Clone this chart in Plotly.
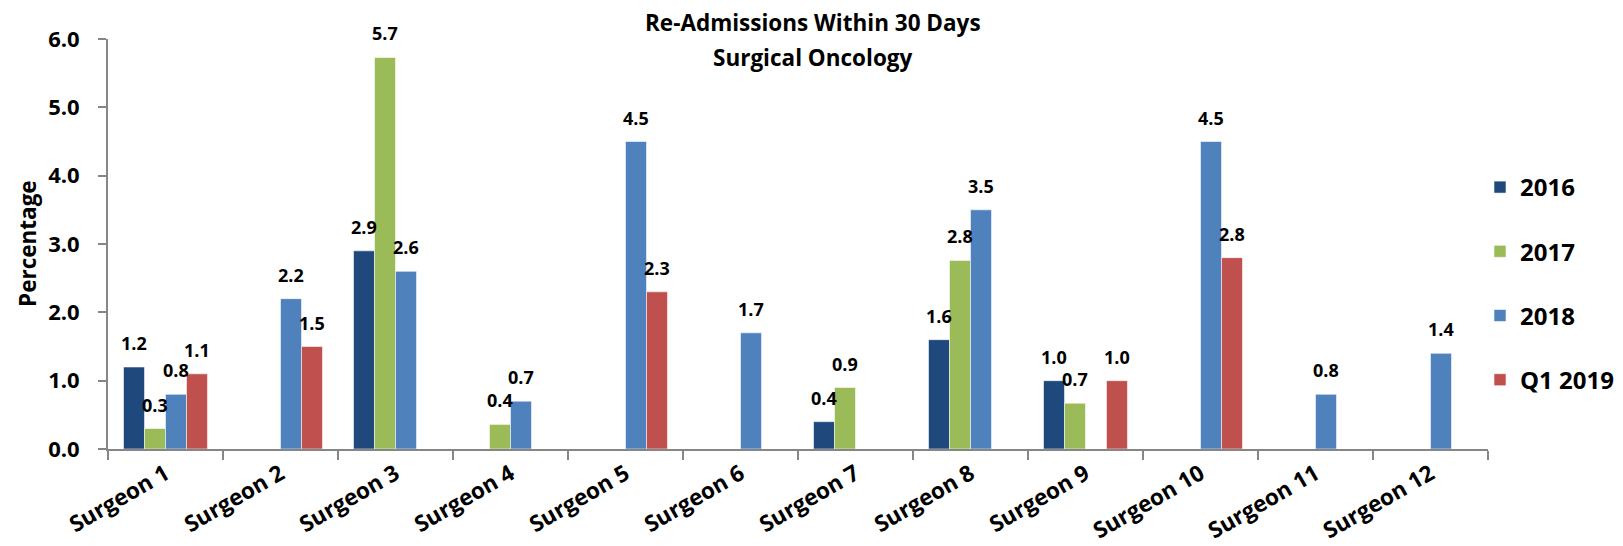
import plotly.graph_objects as go

categories = ["Surgeon 1", "Surgeon 2", "Surgeon 3", "Surgeon 4", "Surgeon 5", "Surgeon 6",
              "Surgeon 7", "Surgeon 8", "Surgeon 9", "Surgeon 10", "Surgeon 11", "Surgeon 12"]
y2016 = [1.2, None, 2.9, None, None, None, 0.4, 1.6, 1.0, None, None, None]
y2017 = [0.3, None, 5.73, 0.36, None, None, 0.9, 2.76, 0.67, None, None, None]
y2018 = [0.8, 2.2, 2.6, 0.7, 4.5, 1.7, None, 3.5, None, 4.5, 0.8, 1.4]
yq12019 = [1.1, 1.5, None, None, 2.3, None, None, None, 1.0, 2.8, None, None]
series_names = ["2016", "2017", "2018", "Q1 2019"]
series_values = [y2016, y2017, y2018, yq12019]
series_colors = ["#1F497D", "#9BBB59", "#4F81BD", "#C0504D"]
y_ticks = [0, 1, 2, 3, 4, 5, 6]

FONT = "Open Sans"
W, H = 1623, 546
OFF = 8  # page body margin offset in the screenshot
# plot area in screen pixels
PL, PR, PT, PB = 108, 1488, 39, 449
ML, MT = PL - OFF, PT - OFF
MR = W - ML - (PR - PL)
MB = H - MT - (PB - PT)
BARGAP = 0.27
plot_w = PR - PL
plot_h = PB - PT
cat_w = plot_w / len(categories)
bar_w = cat_w * (1 - BARGAP) / len(series_names)


def px(x):
    return (x - PL) / plot_w


def py(y):
    return (PB - y) / plot_h


fig = go.Figure()
for i, (name, vals, col) in enumerate(zip(series_names, series_values, series_colors)):
    fig.add_trace(go.Bar(
        x=categories, y=vals, name=name,
        marker=dict(color=col, line=dict(color="rgba(255,255,255,0.55)", width=1)),
        legendgroup=name,
    ))

annotations = []
for i, vals in enumerate(series_values):
    for c, v in zip(categories, vals):
        if v is None:
            continue
        annotations.append(dict(
            x=c, y=v, xref="x", yref="y", text=f"{v:.1f}", showarrow=False,
            xshift=(i - 1.5) * bar_w, yshift=24, yanchor="middle",
            font=dict(family=FONT, size=18, color="black", weight=700),
        ))

annotations.append(dict(x=px(813), y=py(23), xref="paper", yref="paper",
                        text="Re-Admissions Within 30 Days", showarrow=False, yanchor="middle",
                        font=dict(family=FONT, size=22.5, color="black", weight=700)))
annotations.append(dict(x=px(813), y=py(57), xref="paper", yref="paper",
                        text="Surgical Oncology", showarrow=False, yanchor="middle",
                        font=dict(family=FONT, size=22.5, color="black", weight=700)))
annotations.append(dict(x=px(27), y=py(244), xref="paper", yref="paper",
                        text="Percentage", showarrow=False, textangle=-90,
                        xanchor="center", yanchor="middle",
                        font=dict(family=FONT, size=22.5, color="black", weight=700)))

fig.update_layout(
    width=W, height=H,
    margin=dict(l=ML, r=MR, t=MT, b=MB, autoexpand=False),
    paper_bgcolor="white", plot_bgcolor="white",
    barmode="group", bargap=BARGAP, bargroupgap=0,
    font=dict(family=FONT, color="black"),
    showlegend=True,
    legend=dict(
        x=px(1480), y=py(165), xanchor="left", yanchor="top",
        traceorder="grouped", tracegroupgap=30,
        font=dict(family=FONT, size=24, color="black", weight=700),
        bgcolor="rgba(0,0,0,0)",
    ),
    annotations=annotations,
    xaxis=dict(
        showline=True, linecolor="#868686", linewidth=2,
        ticks="outside", tickson="boundaries", ticklen=9, tickcolor="#868686", tickwidth=2,
        tickangle=-30, automargin=False, ticklabelstandoff=1,
        tickfont=dict(family=FONT, size=22.5, color="black", weight=700),
        showgrid=False,
    ),
    yaxis=dict(
        range=[0, 6], tickvals=y_ticks, tickformat=".1f",
        showline=True, linecolor="#868686", linewidth=2,
        ticks="outside", ticklen=8, tickcolor="#868686", tickwidth=2,
        ticklabelstandoff=14, automargin=False,
        tickfont=dict(family=FONT, size=22, color="black", weight=700),
        showgrid=False, zeroline=False,
    ),
)

fig.write_html("out.html")
